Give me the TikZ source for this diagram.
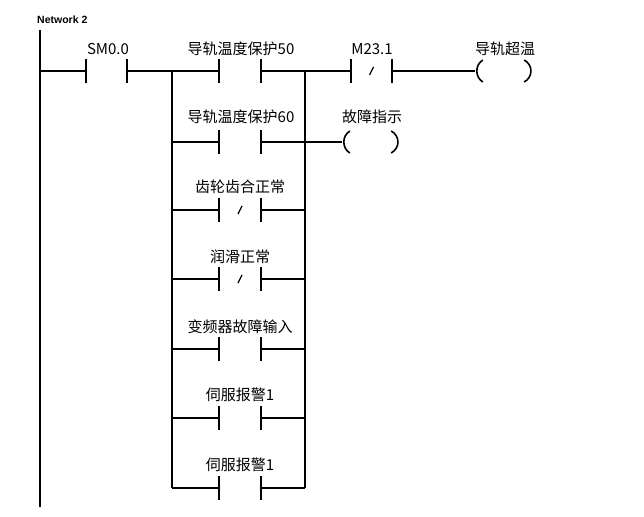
\documentclass[tikz,border=0pt]{standalone}
\usepackage{fontspec}
\setmainfont{Liberation Sans}
\newfontfamily\cjk{Noto Sans CJK SC}
\usetikzlibrary{calc}
\tikzset{
  wire/.style={line width=1.6pt},
  bar/.style={line width=1.9pt},
  contact/.style={minimum width=41pt, minimum height=24pt, inner sep=0pt},
  coil/.style={minimum width=58pt, minimum height=23pt, inner sep=0pt},
  lbl/.style={font=\cjk\fontsize{15}{15}\selectfont, inner sep=0pt},
  nettitle/.style={font=\bfseries\fontsize{10.5}{10.5}\selectfont, inner sep=0pt, anchor=west},
}
\newcommand{\contactbars}[1]{\draw[bar] (#1.north west) -- (#1.south west) (#1.north east) -- (#1.south east);}
\newcommand{\ncslash}[1]{\draw[line width=1.2pt] ($(#1.center)+(-2,4)$) -- ($(#1.center)+(2,-4)$);}
\newcommand{\coilparens}[1]{%
  \draw[wire] ($(#1.west)+(8,-11)$) .. controls ($(#1.west)+(0,-6)$) and ($(#1.west)+(0,6)$) .. ($(#1.west)+(8,11)$);
  \draw[wire] ($(#1.east)+(-9,-11)$) .. controls ($(#1.east)+(0,-6)$) and ($(#1.east)+(0,6)$) .. ($(#1.east)+(-9,11)$);}
\begin{document}
\begin{tikzpicture}[x=1pt,y=-1pt]
\useasboundingbox (0,0) rectangle (644,516);
\node[nettitle] (net) at (37,20) {Network 2};
% power rail
\coordinate (railtop) at (40,30);
\coordinate (railbot) at (40,507);
\draw[bar] (railtop) -- (railbot);
\coordinate (r1) at (40,71);
% SM0.0
\node[contact] (sm) at (106.5,71) {};
\contactbars{sm}
\node[lbl] (tsm) at (108,49) {SM0.0};
% branch junctions
\foreach \i/\y in {1/71,2/142,3/210,4/279,5/349,6/418,7/488}{
  \coordinate (jl\i) at (172,\y);
  \coordinate (jr\i) at (305,\y);
  \node[contact] (c\i) at (240,\y) {};
  \contactbars{c\i}
  \draw[wire] (jl\i) -- (c\i.west) (c\i.east) -- (jr\i);
}
\ncslash{c3}
\ncslash{c4}
\draw[wire] (jl1) -- (jl7);
\draw[wire] (jr1) -- (jr7);
\draw[wire] (r1) -- (sm.west) (sm.east) -- (jl1);
% labels of parallel contacts
\node[lbl] (t1) at (241,49) {导轨温度保护50};
\node[lbl] (t2) at (241,117) {导轨温度保护60};
\node[lbl] (t3) at (240,187) {齿轮齿合正常};
\node[lbl] (t4) at (240,257) {润滑正常};
\node[lbl] (t5) at (240,327) {变频器故障输入};
\node[lbl] (t6) at (240,395) {伺服报警1};
\node[lbl] (t7) at (240,465) {伺服报警1};
% M23.1 NC contact
\node[contact] (m) at (371.5,71) {};
\contactbars{m}
\ncslash{m}
\node[lbl] (tm) at (372,49) {M23.1};
\draw[wire] (jr1) -- (m.west);
% coils
\node[coil] (k1) at (504,71) {};
\coilparens{k1}
\node[lbl] (tk1) at (505,49) {导轨超温};
\draw[wire] (m.east) -- (k1.west);
\node[coil] (k2) at (371,142) {};
\coilparens{k2}
\node[lbl] (tk2) at (372,117) {故障指示};
\draw[wire] (jr2) -- (k2.west);
\end{tikzpicture}
\end{document}
